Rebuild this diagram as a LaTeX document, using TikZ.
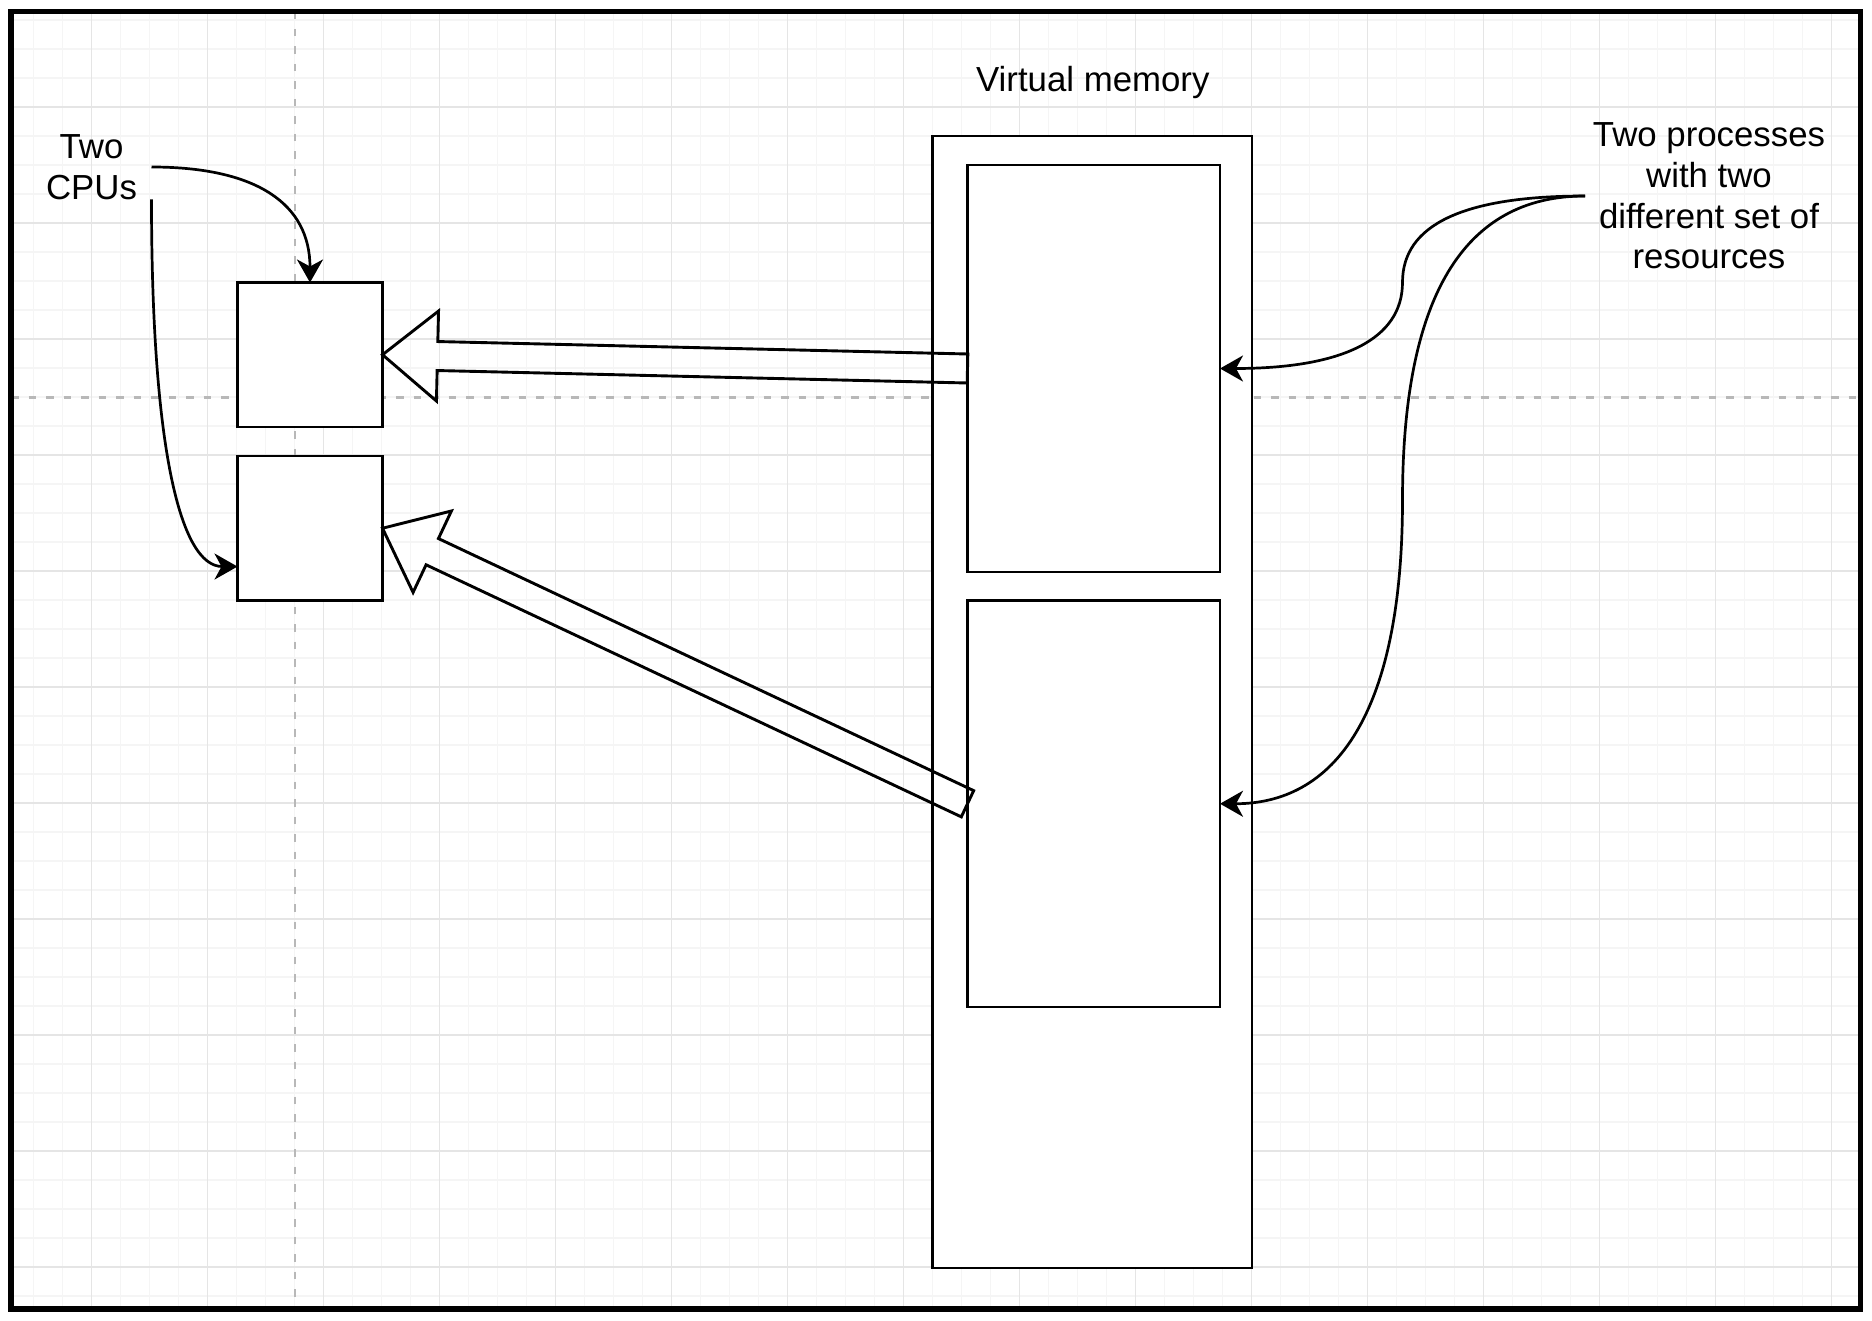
\documentclass[tikz,border=0pt]{standalone}
\usepackage{fontspec}
\setmainfont{Liberation Sans}
\usetikzlibrary{calc,arrows.meta}
\newcommand{\flexarr}[2]{%
  \coordinate (fB) at ($(#1)!55pt!(#2)$);
  \coordinate (fcA) at ($(fB)!45pt!90:(#2)$);
  \coordinate (fcB) at ($(fB)!45pt!-90:(#2)$);
  \coordinate (fsA) at ($(fB)!14.5pt!90:(#2)$);
  \coordinate (fsB) at ($(fB)!14.5pt!-90:(#2)$);
  \coordinate (feA) at ($(#2)!14.5pt!-90:(fB)$);
  \coordinate (feB) at ($(#2)!14.5pt!90:(fB)$);
  \draw[flexarrow] (#1) -- (fcA) -- (fsA) -- (feA) -- (feB) -- (fsB) -- (fcB) -- cycle;
}
% curved connector in the manner of an orthogonal route drawn with quadratic pieces
\newcommand{\scurve}[2]{%
  \coordinate (qm) at ($(#1)!0.5!(#2)$);
  \coordinate (qa) at (qm |- #1);
  \coordinate (qb) at (qm |- #2);
  \draw[conn] (#1) .. controls ($(#1)!2/3!(qa)$) and ($(qm)!2/3!(qa)$) .. (qm)
    .. controls ($(qm)!2/3!(qb)$) and ($(#2)!2/3!(qb)$) .. (#2);
}
\begin{document}
\begin{tikzpicture}[x=1pt,y=-1pt,
  box/.style={draw, line width=2.9pt, fill=white, inner sep=0pt, outer sep=0pt, anchor=north west},
  conn/.style={draw, line width=2.7pt, -{Stealth[length=23pt,width=26pt,inset=7pt]}},
  lbl/.style={font=\fontsize{34.8}{40.6}\selectfont, align=center, inner sep=0pt, outer sep=0pt},
  flexarrow/.style={draw, line width=2.9pt, line join=miter},
  minorgrid/.style={draw=black!4, line width=1.5pt},
  majorgrid/.style={draw=black!10, line width=1.8pt},
  pagebreak/.style={draw=black!28, line width=2.7pt, dash pattern=on 7.5pt off 10pt}
]
\useasboundingbox (0,0) rectangle (1872,1321);
\fill[white] (0,0) rectangle (1872,1321);
% grid and page breaks
\begin{scope}
  \clip (11,11.5) rectangle (1860.5,1309);
  \foreach \i in {0,...,64} \draw[minorgrid] (4.5+29*\i,0) -- (4.5+29*\i,1321);
  \foreach \j in {0,...,44} \draw[minorgrid] (0,20+29*\j) -- (1872,20+29*\j);
  \foreach \i in {0,...,15} \draw[majorgrid] (91.5+116*\i,0) -- (91.5+116*\i,1321);
  \foreach \j in {0,...,10} \draw[majorgrid] (0,107+116*\j) -- (1872,107+116*\j);
  \draw[pagebreak] (295,11.5) -- (295,1309);
  \draw[pagebreak] (11,397.5) -- (1860.5,397.5);
\end{scope}
\draw[line width=5.2pt] (11,11.5) rectangle (1860.5,1309);

% shapes
\node[box, minimum width=319.5pt, minimum height=1132pt] (vmem) at (932.5,136) {};
\node[box, minimum width=252.5pt, minimum height=407pt] (inner1) at (967.5,165) {};
\node[box, minimum width=252.5pt, minimum height=406.5pt] (inner2) at (967.5,600.5) {};
\node[box, minimum width=145pt, minimum height=144.5pt] (box1) at (237.5,282.5) {};
\node[box, minimum width=145pt, minimum height=144.5pt] (box2) at (237.5,456) {};

% labels
\node[lbl, anchor=base] (vmlabel) at (1092.8,91.7) {Virtual memory};
\node[lbl, minimum width=120pt, minimum height=60pt] (cpu) at (91.5,167) {Two\\CPUs};
\node[lbl, minimum width=248pt] (proc) at (1709,196) {Two processes\\with two\\different set of\\resources};

% flex arrows
\flexarr{box1.east}{inner1.west}
\flexarr{box2.east}{inner2.west}

% thin curved connectors
\coordinate (b2in) at ($(box2.north west)!0.765!(box2.south west)$);
\draw[conn] (cpu.east) .. controls +(105.7,0) and +(0,-78.3) .. (box1.north);
\draw[conn] (cpu.south east) .. controls +(0,248) and +(-57.5,0) .. (b2in);
\scurve{proc.west}{inner1.east}
\scurve{proc.west}{inner2.east}
\end{tikzpicture}
\end{document}
